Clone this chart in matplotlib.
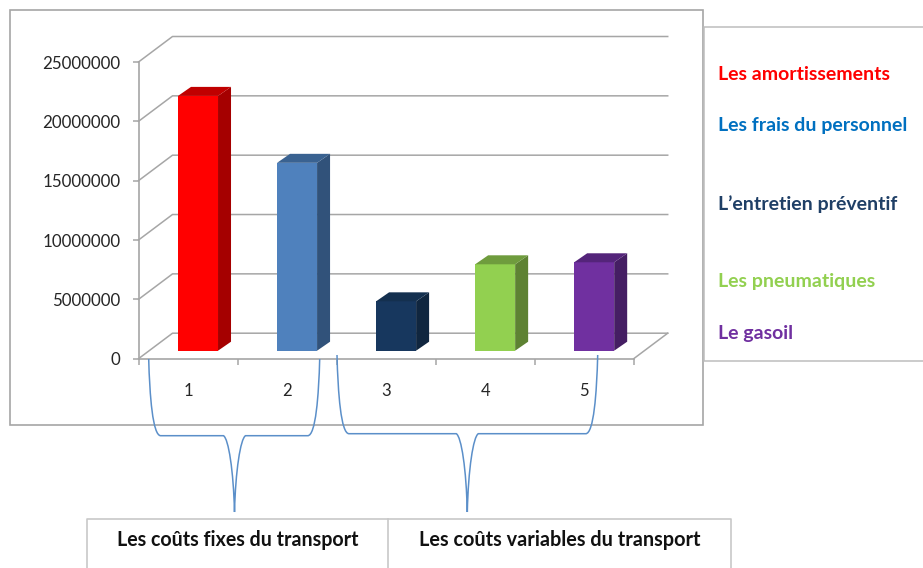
import matplotlib.pyplot as plt
from matplotlib.patches import PathPatch, Rectangle
from matplotlib.path import Path

# cost per category
categories = [1, 2, 3, 4, 5]
values = [21470000, 15830000, 4160000, 7280000, 7450000]
y_ticks = [0, 5000000, 10000000, 15000000, 20000000, 25000000]

front_colors = ['#ff0000', '#4f81bd', '#17375e', '#92d050', '#7030a0']
side_colors = ['#a50000', '#31527a', '#10263f', '#5e8233', '#451e63']
top_colors = ['#c00000', '#3a6291', '#14304f', '#6f9c3d', '#54247a']

legend_labels = ['Les amortissements', 'Les frais du personnel',
                 'L\u2019entretien préventif', 'Les pneumatiques', 'Le gasoil']
legend_colors = ['#ff0000', '#0070c0', '#1f3f66', '#92d050', '#7030a0']
legend_y = [74, 126, 204, 282, 333]

W, H = 923, 568
GRAY = '#a6a6a6'
BRACE = '#5b8fc9'
FONT = 'Lato'

plt.rcParams['font.family'] = FONT

fig = plt.figure(figsize=(W / 100, H / 100), dpi=100)

# overlay in pixel units for the frames, braces and side text
page = fig.add_axes([0, 0, 1, 1], zorder=3)
page.set_xlim(0, W)
page.set_ylim(H, 0)
page.axis('off')
page.patch.set_alpha(0)

# plot area, its front edges are the axis lines
left, right, top, bottom = 138.5, 633.7, 62.0, 358.7
ax = fig.add_axes([left / W, 1 - bottom / H, (right - left) / W, (bottom - top) / H],
                  zorder=2)
ax.patch.set_alpha(0)
ax.set_xlim(0.5, 5.5)
ax.set_ylim(0, 25000000)

px_x = 5 / (right - left)
px_y = 25000000 / (bottom - top)

# walls and floor of the 3D box
wall_dx = 34 * px_x
wall_dy = 25.5 * px_y
for t in y_ticks:
    ax.plot([0.5, 0.5 + wall_dx, 5.5 + wall_dx], [t, t + wall_dy, t + wall_dy],
            color=GRAY, lw=1.1, clip_on=False, zorder=1)
ax.plot([5.5, 5.5 + wall_dx], [0, wall_dy], color=GRAY, lw=1.1, clip_on=False, zorder=1)

# bars stand in the middle of the floor depth
bar_shift = 10 * px_x
bar_lift = 8 * px_y
bar_w = 40 * px_x
depth_x = 13 * px_x
depth_y = 9 * px_y
for cat, val, fc, sc, tc in zip(categories, values, front_colors, side_colors, top_colors):
    x0 = cat + bar_shift - bar_w / 2
    x1 = x0 + bar_w
    y0 = bar_lift
    y1 = bar_lift + val
    ax.bar(x0, val, width=bar_w, bottom=y0, align='edge', color=fc, clip_on=False, zorder=3)
    ax.fill([x1, x1 + depth_x, x1 + depth_x, x1],
            [y0, y0 + depth_y, y1 + depth_y, y1], color=sc, lw=0, clip_on=False, zorder=3)
    ax.fill([x0, x0 + depth_x, x1 + depth_x, x1],
            [y1, y1 + depth_y, y1 + depth_y, y1], color=tc, lw=0, clip_on=False, zorder=3)

for name in ['top', 'right']:
    ax.spines[name].set_visible(False)
for name in ['left', 'bottom']:
    ax.spines[name].set_color(GRAY)
    ax.spines[name].set_linewidth(1.2)

ax.set_yticks(y_ticks)
ax.set_yticklabels([str(t) for t in y_ticks])
ax.tick_params(axis='y', length=4, width=1.1, color=GRAY, pad=9, labelsize=12.2, labelcolor='#262626')
# separators sit between the categories, the numbers sit between the separators
ax.set_xticks([0.5, 1.5, 2.5, 3.5, 4.5, 5.5])
ax.set_xticklabels([])
ax.set_xticks(categories, minor=True)
ax.set_xticklabels([str(c) for c in categories], minor=True)
ax.tick_params(axis='x', which='major', length=4, width=1.1, color=GRAY)
ax.tick_params(axis='x', which='minor', length=0, pad=17.5, labelsize=12, labelcolor='#262626')

# chart frame and side panel
page.add_patch(Rectangle((10, 9.7), 692.7, 415, fill=False, ec=GRAY, lw=1.2))
page.plot([923, 704, 704, 923], [27, 27, 360.7, 360.7], color='#bdbdbd', lw=1.1)

for label, color, y in zip(legend_labels, legend_colors, legend_y):
    page.text(718, y, label, color=color, fontsize=14, fontweight='bold', va='center', ha='left')

# bottom table
page.plot([87.3, 87.3, 730.7, 730.7], [568, 518.7, 518.7, 568], color='#c8c8c8', lw=1.2)
page.plot([388.3, 388.3], [518.7, 568], color='#c8c8c8', lw=1.2)
page.text(237.5, 540, 'Les coûts fixes du transport', color='#111111', fontsize=14.1,
          fontweight='bold', ha='center', va='center')
page.text(559.5, 540, 'Les coûts variables du transport', color='#111111', fontsize=14.3,
          fontweight='bold', ha='center', va='center')


def brace(x_left, x_right, x_tip, y_start, y_flat, y_tip):
    c = Path.CURVE4
    verts = [(x_left, y_start),
             (x_left + 1, y_flat - 40), (x_left + 4, y_flat), (x_left + 12, y_flat),
             (x_tip - 11, y_flat),
             (x_tip - 6, y_flat + 3), (x_tip - 1, y_flat + 35), (x_tip, y_tip),
             (x_tip + 1, y_flat + 35), (x_tip + 6, y_flat + 3), (x_tip + 11, y_flat),
             (x_right - 12, y_flat),
             (x_right - 4, y_flat), (x_right - 1, y_flat - 40), (x_right, y_start)]
    codes = [Path.MOVETO, c, c, c, Path.LINETO, c, c, c, c, c, c, Path.LINETO, c, c, c]
    page.add_patch(PathPatch(Path(verts, codes), fill=False, ec=BRACE, lw=1.1))


brace(148.7, 319.7, 234.5, 359, 435.7, 512)
brace(337, 597.7, 467.3, 355, 433.7, 512)

fig.savefig('out.png', dpi=100)
